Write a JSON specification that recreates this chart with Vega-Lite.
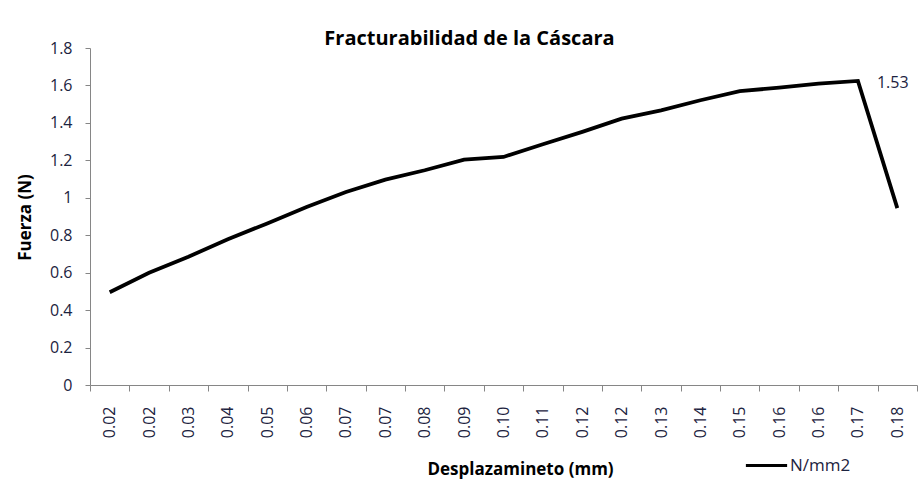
{
  "$schema": "https://vega.github.io/schema/vega-lite/v6.json",
  "width": 827,
  "height": 337,
  "autosize": {"type": "none"},
  "padding": {"left": 90, "top": 48, "right": 5, "bottom": 100},
  "background": "white",
  "config": {"view": {"stroke": null}, "font": "Open Sans"},
  "title": {
    "text": "Fracturabilidad de la Cáscara",
    "font": "Open Sans",
    "fontSize": 20,
    "fontWeight": "bold",
    "color": "black",
    "anchor": "middle",
    "dx": -34,
    "offset": -9
  },
  "data": {
    "values": [
      {"idx": 1, "desp": "0.02", "fuerza": 0.495},
      {"idx": 2, "desp": "0.02", "fuerza": 0.599},
      {"idx": 3, "desp": "0.03", "fuerza": 0.685},
      {"idx": 4, "desp": "0.04", "fuerza": 0.779},
      {"idx": 5, "desp": "0.05", "fuerza": 0.863},
      {"idx": 6, "desp": "0.06", "fuerza": 0.951},
      {"idx": 7, "desp": "0.07", "fuerza": 1.031},
      {"idx": 8, "desp": "0.07", "fuerza": 1.097},
      {"idx": 9, "desp": "0.08", "fuerza": 1.147},
      {"idx": 10, "desp": "0.09", "fuerza": 1.204},
      {"idx": 11, "desp": "0.10", "fuerza": 1.218},
      {"idx": 12, "desp": "0.11", "fuerza": 1.286},
      {"idx": 13, "desp": "0.12", "fuerza": 1.352},
      {"idx": 14, "desp": "0.12", "fuerza": 1.423},
      {"idx": 15, "desp": "0.13", "fuerza": 1.467},
      {"idx": 16, "desp": "0.14", "fuerza": 1.521},
      {"idx": 17, "desp": "0.15", "fuerza": 1.57},
      {"idx": 18, "desp": "0.16", "fuerza": 1.588},
      {"idx": 19, "desp": "0.16", "fuerza": 1.61},
      {"idx": 20, "desp": "0.17", "fuerza": 1.624, "label": "1.53"},
      {"idx": 21, "desp": "0.18", "fuerza": 0.945}
    ]
  },
  "encoding": {
    "x": {
      "field": "idx",
      "type": "ordinal",
      "scale": {"type": "band", "paddingInner": 0, "paddingOuter": 0},
      "axis": {
        "labelExpr": "['0.02','0.02','0.03','0.04','0.05','0.06','0.07','0.07','0.08','0.09','0.10','0.11','0.12','0.12','0.13','0.14','0.15','0.16','0.16','0.17','0.18'][datum.value-1]",
        "labelAngle": -90,
        "labelFontSize": 16,
        "labelColor": "#1c2340",
        "labelPadding": 15,
        "tickSize": 6,
        "tickBand": "extent",
        "tickColor": "#868686",
        "domainColor": "#868686",
        "title": "Desplazamineto (mm)",
        "titleFontSize": 17,
        "titleFontWeight": "bold",
        "titleColor": "black",
        "titleX": 430,
        "titleY": 84,
        "titleBaseline": "middle",
        "titleAlign": "center"
      }
    },
    "y": {
      "field": "fuerza",
      "type": "quantitative",
      "scale": {"domain": [0, 1.8], "nice": false},
      "axis": {
        "values": [0, 0.2, 0.4, 0.6, 0.8, 1, 1.2, 1.4, 1.6, 1.8],
        "format": "~g",
        "grid": false,
        "labelFontSize": 16,
        "labelColor": "#1c2340",
        "labelPadding": 13,
        "tickSize": 5,
        "tickColor": "#868686",
        "domainColor": "#868686",
        "title": "Fuerza (N)",
        "titleFontSize": 17,
        "titleFontWeight": "bold",
        "titleColor": "black",
        "titleAngle": 270,
        "titleX": -65,
        "titleY": 169,
        "titleBaseline": "middle",
        "titleAlign": "center"
      }
    }
  },
  "layer": [
    {
      "mark": {"type": "line", "strokeWidth": 3.8, "strokeJoin": "miter"},
      "encoding": {
        "color": {
          "datum": "N/mm2",
          "type": "nominal",
          "scale": {"range": ["black"]},
          "legend": {
            "orient": "none",
            "legendX": 654,
            "legendY": 395,
            "title": null,
            "symbolType": "stroke",
            "symbolStrokeWidth": 3,
            "symbolSize": 1700,
            "labelFontSize": 17,
            "labelColor": "#1c2340",
            "labelOffset": 1,
            "padding": 0
          }
        }
      }
    },
    {
      "transform": [{"filter": "isValid(datum.label)"}],
      "mark": {"type": "text", "align": "left", "baseline": "middle", "dx": 19, "dy": 2, "fontSize": 16, "color": "#1c2340"},
      "encoding": {"text": {"field": "label"}}
    }
  ]
}
